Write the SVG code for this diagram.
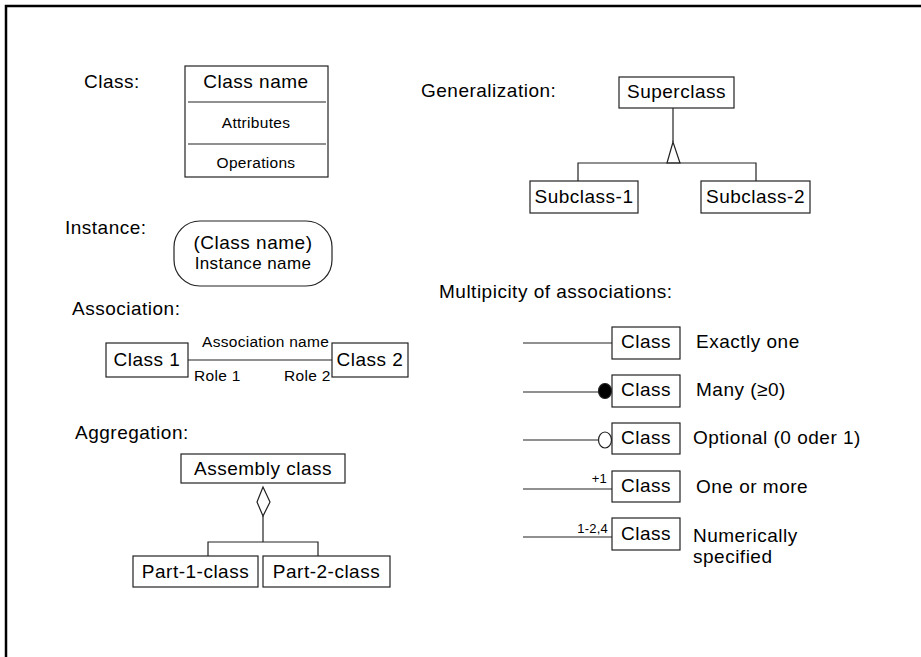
<svg xmlns="http://www.w3.org/2000/svg" width="921" height="657" viewBox="0 0 921 657">
<style>
  text { font-family: "Liberation Sans", Arial, sans-serif; fill: #000; }
  .big { font-size: 19px; letter-spacing: 0.5px; }
  .mid { font-size: 17px; letter-spacing: 0.4px; }
  .sm { font-size: 15.5px; letter-spacing: 0.3px; }
  .xs { font-size: 13px; letter-spacing: 0.2px; }
  .c { text-anchor: middle; }
  .e { text-anchor: end; }
  .box { fill: #fff; stroke: #222; stroke-width: 1.2; }
  .ln { fill: none; stroke: #222; stroke-width: 1.2; }
</style>
<rect width="921" height="657" fill="#fff"/>
<rect x="6" y="6" width="930" height="670" fill="none" stroke="#000" stroke-width="2.5"/>

<!-- section labels -->
<g id="labels">
  <text class="big" x="84" y="88">Class:</text>
  <text class="big" x="65" y="234">Instance:</text>
  <text class="big" x="72" y="315">Association:</text>
  <text class="big" x="75" y="439">Aggregation:</text>
  <text class="big" x="421" y="97">Generalization:</text>
  <text class="big" x="439" y="298">Multipicity of associations:</text>
</g>

<g id="class-box">
  <rect class="box" x="185" y="66" width="143" height="111"/>
  <line class="ln" x1="188" y1="102" x2="326" y2="102"/>
  <line class="ln" x1="188" y1="144" x2="326" y2="144"/>
  <text class="big c" x="256" y="88">Class name</text>
  <text class="sm c" x="256" y="128">Attributes</text>
  <text class="sm c" x="256" y="168">Operations</text>
</g>

<g id="instance">
  <rect class="box" x="174" y="221" width="158" height="65" rx="26" ry="26"/>
  <text class="big c" x="253" y="249">(Class name)</text>
  <text class="mid c" x="253" y="269">Instance name</text>
</g>

<g id="connectors">
  <!-- association -->
  <line class="ln" x1="188" y1="360" x2="332" y2="360"/>
  <!-- generalization -->
  <line class="ln" x1="673" y1="108" x2="673" y2="142"/>
  <polygon class="box" points="673,142 667,163 680,163"/>
  <polyline class="ln" points="578,181 578,163 756,163 756,181"/>
  <!-- aggregation -->
  <polygon class="box" points="263,487 257,502 263,516 270,502"/>
  <line class="ln" x1="263" y1="516" x2="263" y2="542"/>
  <polyline class="ln" points="208,556 208,542 318,542 318,556"/>
  <!-- multiplicity -->
  <line class="ln" x1="523" y1="343" x2="612" y2="343"/>
  <line class="ln" x1="523" y1="392" x2="599" y2="392"/>
  <ellipse cx="605" cy="391" rx="6.5" ry="7.5" fill="#000" stroke="#222" stroke-width="1.2"/>
  <line class="ln" x1="523" y1="440" x2="599" y2="440"/>
  <ellipse cx="605" cy="440" rx="6.5" ry="8" fill="#fff" stroke="#222" stroke-width="1.2"/>
  <line class="ln" x1="523" y1="489" x2="612" y2="489"/>
  <line class="ln" x1="523" y1="537" x2="612" y2="537"/>
</g>

<g id="association-labels">
  <text class="sm" x="202" y="347">Association name</text>
  <text class="sm" x="194" y="381">Role 1</text>
  <text class="sm" x="284" y="381">Role 2</text>
</g>

<g id="class1">
  <rect class="box" x="106" y="343" width="82" height="34"/>
  <text class="big c" x="147" y="366">Class 1</text>
</g>
<g id="class2">
  <rect class="box" x="332" y="343" width="76" height="34"/>
  <text class="big c" x="370" y="366">Class 2</text>
</g>

<g id="superclass">
  <rect class="box" x="619" y="77" width="115" height="31"/>
  <text class="big c" x="676.5" y="98">Superclass</text>
</g>
<g id="subclass1">
  <rect class="box" x="530" y="181" width="108" height="32"/>
  <text class="big c" x="584" y="203">Subclass-1</text>
</g>
<g id="subclass2">
  <rect class="box" x="701" y="181" width="109" height="32"/>
  <text class="big c" x="755.5" y="203">Subclass-2</text>
</g>

<g id="assembly">
  <rect class="box" x="181" y="454" width="164" height="29"/>
  <text class="big c" x="263" y="475">Assembly class</text>
</g>
<g id="part1">
  <rect class="box" x="133" y="556" width="125" height="31"/>
  <text class="big c" x="195.5" y="578">Part-1-class</text>
</g>
<g id="part2">
  <rect class="box" x="263" y="556" width="127" height="31"/>
  <text class="big c" x="326.5" y="578">Part-2-class</text>
</g>

<g id="mult1">
  <rect class="box" x="612" y="327" width="68" height="32"/>
  <text class="big c" x="646" y="348">Class</text>
  <text class="big" x="696" y="348">Exactly one</text>
</g>
<g id="mult2">
  <rect class="box" x="612" y="375" width="68" height="32"/>
  <text class="big c" x="646" y="396">Class</text>
  <text class="big" x="696" y="396">Many (≥0)</text>
</g>
<g id="mult3">
  <rect class="box" x="612" y="423" width="68" height="31"/>
  <text class="big c" x="646" y="444">Class</text>
  <text class="big" x="693" y="444">Optional (0 oder 1)</text>
</g>
<g id="mult4">
  <rect class="box" x="612" y="471" width="68" height="31"/>
  <text class="big c" x="646" y="492">Class</text>
  <text class="xs e" x="607" y="483">+1</text>
  <text class="big" x="696" y="493">One or more</text>
</g>
<g id="mult5">
  <rect class="box" x="612" y="518" width="68" height="32"/>
  <text class="big c" x="646" y="540">Class</text>
  <text class="xs e" x="608" y="533">1-2,4</text>
  <text class="big" x="693" y="542">Numerically</text>
  <text class="big" x="693" y="563">specified</text>
</g>
</svg>
